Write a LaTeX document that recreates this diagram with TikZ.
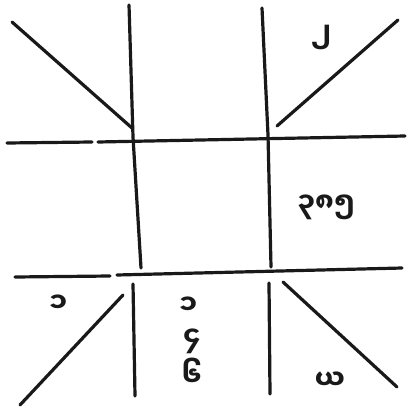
\documentclass[tikz,border=0pt]{standalone}
\usepackage{fontspec}
\newfontfamily\myanmarfont[Script=Myanmar]{Noto Sans Myanmar UI}
\tikzset{
  pen/.style={line width=3.2pt, line cap=round, line join=round, black!90},
  numeral/.style={font=\myanmarfont\bfseries\fontsize{27}{29}\selectfont, inner sep=0pt, black!90},
}
\begin{document}
\begin{tikzpicture}[x=1pt, y=-1pt]
  \useasboundingbox (0,0) rectangle (407,409);
  % verticals
  \draw[pen] (129,5) -- (133,137) -- (141,268);
  \draw[pen] (133,284) -- (135,396);
  \draw[pen] (262,8) -- (268,135) -- (271,267);
  \draw[pen] (269,283) -- (270,394);
  % horizontals, each with a small break on the left
  \draw[pen] (7,143) -- (92,142);
  \draw[pen] (98,142) -- (405,136);
  \draw[pen] (15,277) -- (110,276);
  \draw[pen] (117,275) -- (402,268);
  % corner diagonals
  \draw[pen] (12,22) -- (132,128);
  \draw[pen] (277,126) -- (398,20);
  \draw[pen] (123,295) -- (20,405);
  \draw[pen] (283,282) -- (397,387);
  % numbers
  \node[numeral] (two) at (321,37) {၂};
  \node[numeral] (code) at (326,207) {၃၈၅};
  \node[numeral] (leftone) at (58,304) {၁};
  \node[numeral] (midone) at (188,306) {၁};
  \node[numeral] (four) at (192,341) {၄};
  \node[numeral] (six) at (192,372) {၆};
  \node[numeral] (ya) at (330,381) {ယ};
\end{tikzpicture}
\end{document}
